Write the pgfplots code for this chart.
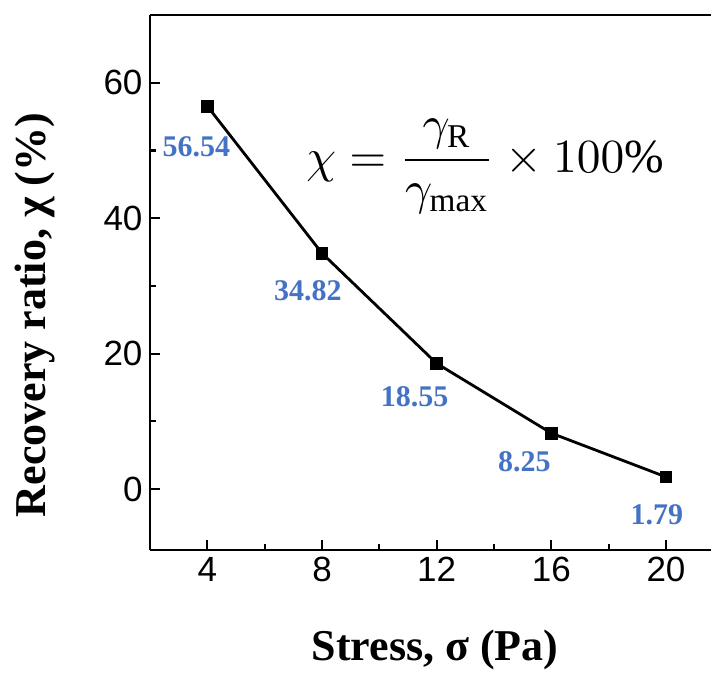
\documentclass[border=0pt]{standalone}
\usepackage{fontspec}
\setmainfont{Liberation Serif}
\newfontfamily\arial{Liberation Sans}
\usepackage{pgfplots}
\pgfplotsset{compat=1.18}
\definecolor{lblue}{HTML}{4472C4}

\begin{document}
\begin{tikzpicture}
\begin{axis}[
  scale only axis, width=561pt, height=535pt,
  xmin=2, xmax=21.57, ymin=-9, ymax=70,
  axis x line=box, axis y line=left,
  axis line style={-, line width=2.8pt},
  xtick pos=left, ytick pos=left,
  xtick={4,8,12,16,20}, ytick={0,20,40,60},
  minor x tick num=1, minor y tick num=1,
  tick align=inside,
  major tick length=10pt, minor tick length=6pt,
  every tick/.style={black, line width=2.2pt},
  /pgf/number format/assume math mode=true,
  tick label style={font=\fontsize{35}{35}\selectfont\arial},
  xticklabel style={yshift=-4pt},
  yticklabel style={xshift=-4pt},
  clip=false,
]
\addplot[black, line width=2.8pt, mark=square*, mark size=5pt]
  coordinates {(4,56.54) (8,34.82) (12,18.55) (16,8.25) (20,1.79)};

\begin{scope}[every node/.style={text=lblue, font=\fontsize{30}{30}\selectfont\bfseries}]
\node[xshift=-11pt, yshift=-41pt] at (axis cs:4,56.54) {56.54};
\node[xshift=-14pt, yshift=-37pt] at (axis cs:8,34.82) {34.82};
\node[xshift=-22pt, yshift=-33pt] at (axis cs:12,18.55) {18.55};
\node[xshift=-27pt, yshift=-29pt] at (axis cs:16,8.25) {8.25};
\node[xshift=-9pt, yshift=-38pt] at (axis cs:20,1.79) {1.79};
\end{scope}

\node at (axis cs:13.69,47.6) {\scalebox{4.75}{$\displaystyle \chi = \frac{\gamma_{\mathrm{R}}}{\gamma_{\max}} \times 100\%$}};

\node[font=\fontsize{44}{44}\selectfont\bfseries] at (rel axis cs:0.508,-0.187) {Stress, σ (Pa)};
\node[font=\fontsize{44}{44}\selectfont\bfseries, rotate=90] at (rel axis cs:-0.205,0.439) {Recovery ratio, χ (\%)};
\end{axis}
\pgfresetboundingbox
\path[use as bounding box] ([xshift=-150pt,yshift=-125pt]current axis.south west) rectangle ([yshift=15pt]current axis.north east);
\end{tikzpicture}
\end{document}
